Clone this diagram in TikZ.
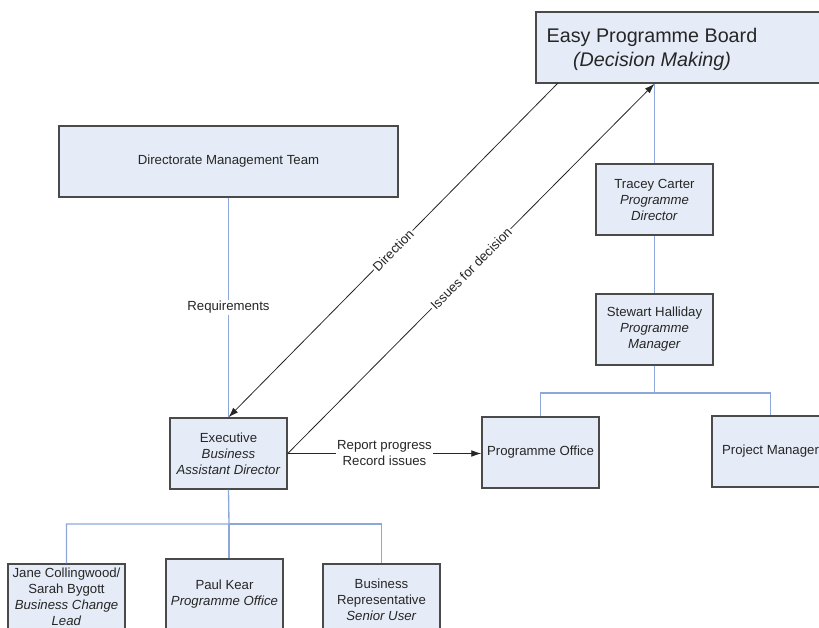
\documentclass[tikz,border=0pt]{standalone}
\usepackage{fontspec}
\setmainfont{Liberation Sans}
\usetikzlibrary{arrows.meta}

\definecolor{boxfill}{HTML}{E6ECF7}
\definecolor{boxdraw}{HTML}{4A4A4A}
\definecolor{orgblue}{HTML}{8DA7DA}
\definecolor{txtgray}{HTML}{262626}

\tikzset{
  rolebox/.style={draw=boxdraw, fill=boxfill, line width=1.1pt, minimum width=87.75pt,
    minimum height=53.25pt, align=center, inner sep=1pt, text=txtgray,
    font=\fontsize{9.9}{12}\selectfont},
  orgline/.style={draw=orgblue, line width=1pt},
  flowline/.style={draw=black!85, line width=0.6pt, -{Latex[length=7.5pt,width=5pt]}},
  flowlbl/.style={fill=white, inner sep=1pt, text=txtgray, font=\fontsize{9.9}{12}\selectfont},
}

\begin{document}
\begin{tikzpicture}[x=0.75pt,y=0.75pt,yscale=-1,xscale=1]
		\useasboundingbox (0,0) rectangle (819,628);
		\clip (0,0) rectangle (819,628);
		
		%Board
		\node[rolebox, minimum width=220.5pt] (board) at (683,47.5) {};
		\node[text=txtgray, align=center, font=\fontsize{14.8}{18}\selectfont] (boardtxt) at (652,49) {Easy Programme Board\\\textit{(Decision Making)}};
		%Directorate
		\node[rolebox, minimum width=254.25pt] (dmt) at (228.5,161.5) {Directorate Management Team};
		%Programme side
		\node[rolebox] (tracey) at (654.5,199.5) {Tracey Carter\\\textit{Programme}\\\textit{Director}};
		\node[rolebox] (stewart) at (654.5,329.5) {Stewart Halliday\\\textit{Programme}\\\textit{Manager}};
		\node[rolebox] (progoff) at (540.5,452.5) {Programme Office};
		\node[rolebox] (projmgr) at (770.5,451.5) {Project Manager};
		%Business side
		\node[rolebox] (exec) at (228.5,453.5) {Executive\\\textit{Business}\\\textit{Assistant Director}};
		\node[rolebox, minimum height=49.5pt] (jane) at (66.5,597) {Jane Collingwood/\\Sarah Bygott\\\textit{Business Change}\\\textit{Lead}};
		\node[rolebox] (paul) at (224.5,594.5) {Paul Kear\\\textit{Programme Office}};
		\node[rolebox] (brep) at (381.5,599.5) {Business\\Representative\\\textit{Senior User}};
		
		%branch points
		\coordinate (pbr) at (654.5,393);
		\coordinate (ebr) at (229,524);
		\coordinate (dirS) at (558,83);
		
		%Straight Lines
		\draw[orgline] (tracey.north |- board.south) -- (tracey.north);
		\draw[orgline] (tracey) -- (stewart);
		\draw[orgline] (stewart.south) -- (pbr) -| (progoff.north);
		\draw[orgline] (pbr) -| (projmgr.north);
		\draw[orgline] (dmt) -- node[flowlbl] (reqlbl) {Requirements} (exec);
		\draw[orgline] (exec.south) -- (ebr) -| (jane.north);
		\draw[orgline] (ebr) -| (brep.north);
		\draw[orgline] (ebr) -- (ebr |- paul.north);
		
		%Arrows
		\draw[flowline] (dirS) -- node[flowlbl, rotate=45.8] (dirlbl) {Direction} (exec.north);
		\draw[flowline] (exec.east) -- node[flowlbl, rotate=45.4] (isslbl) {Issues for decision} (tracey.north |- board.south);
		\draw[flowline] (exec.east) -- node[flowlbl, align=center] (replbl) {Report progress\\Record issues} (exec.east -| progoff.west);
		
\end{tikzpicture}
\end{document}
